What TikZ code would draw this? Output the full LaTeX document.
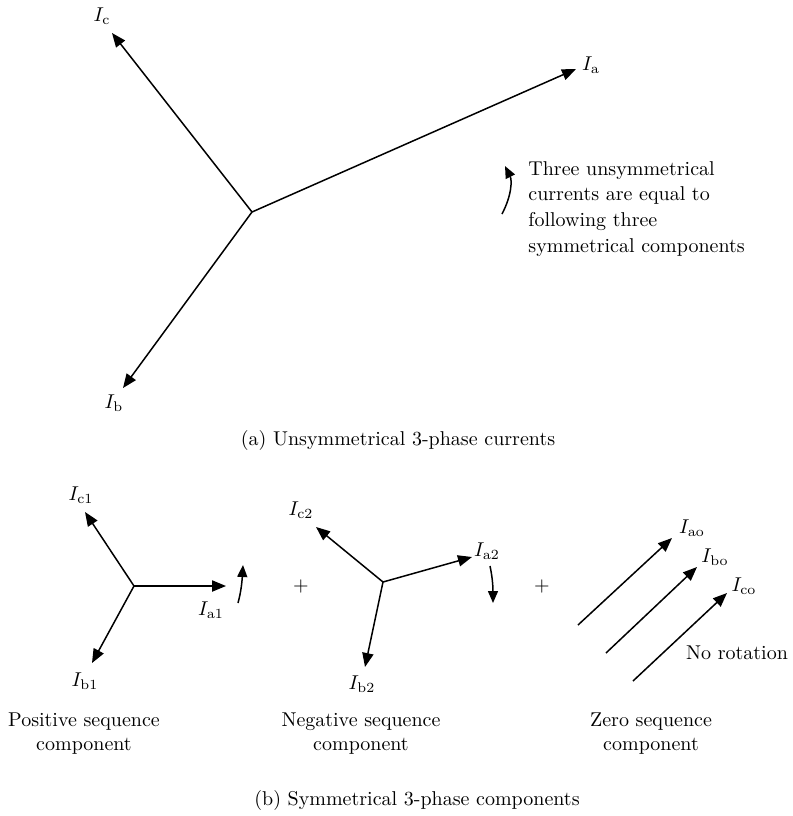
\documentclass[tikz,border=0pt]{standalone}
\usetikzlibrary{arrows.meta}
\begin{document}
\begin{tikzpicture}[x=0.5pt,y=-0.5pt,
  vec/.style={-{Triangle[length=7pt,width=5.6pt]}, line width=0.75pt},
  rot/.style={-{Triangle[length=6pt,width=5pt]}, line width=0.75pt},
  lbl/.style={font=\fontsize{10}{12}\selectfont, inner sep=0pt},
  txt/.style={font=\fontsize{10}{12.85}\selectfont, align=left, inner sep=0pt},
  captxt/.style={font=\fontsize{10}{12}\selectfont, align=center, inner sep=0pt}]
\useasboundingbox (0,0) rectangle (793,816);
% ---------- (a) ----------
\coordinate (O) at (252,212);
\coordinate (Ia) at (576,69);
\coordinate (Ic) at (112,33);
\coordinate (Ib) at (123,388);
\draw[vec] (O) -- (Ia);
\draw[vec] (O) -- (Ic);
\draw[vec] (O) -- (Ib);
\node[lbl] (lIa) at (591,65) {$I_{\mathrm{a}}$};
\node[lbl] (lIc) at (102,16) {$I_{\mathrm{c}}$};
\node[lbl] (lIb) at (114,403) {$I_{\mathrm{b}}$};
\coordinate (r1s) at (502,214);
\coordinate (r1e) at (505,166);
\draw[rot] (r1s) .. controls (512,195) and (512,180) .. (r1e);
\node[txt, anchor=north west] (note) at (528,161) {Three unsymmetrical\\currents are equal to\\following three\\symmetrical components};
\node[captxt] (capa) at (398,440) {(a) Unsymmetrical 3-phase currents};
% ---------- positive ----------
\coordinate (P) at (134,586);
\coordinate (Pa) at (226,586);
\coordinate (Pb) at (92,663);
\coordinate (Pc) at (85,512);
\draw[vec] (P) -- (Pa);
\draw[vec] (P) -- (Pb);
\draw[vec] (P) -- (Pc);
\node[lbl] (lIa1) at (211,610) {$I_{\mathrm{a1}}$};
\node[lbl] (lIb1) at (85,681) {$I_{\mathrm{b1}}$};
\node[lbl] (lIc1) at (81,495) {$I_{\mathrm{c1}}$};
\coordinate (r2s) at (238,603);
\coordinate (r2e) at (243,565);
\draw[rot] (r2s) .. controls (241,592) and (242,582) .. (r2e);
\node[captxt] (tpos) at (84,734) {Positive sequence\\component};
\node[lbl] (plus1) at (301,586) {$+$};
% ---------- negative ----------
\coordinate (N) at (383,582);
\coordinate (Na) at (472,557);
\coordinate (Nb) at (365,667);
\coordinate (Nc) at (316,527);
\draw[vec] (N) -- (Na);
\draw[vec] (N) -- (Nb);
\draw[vec] (N) -- (Nc);
\node[lbl] (lIa2) at (487,551) {$I_{\mathrm{a2}}$};
\node[lbl] (lIb2) at (362,684) {$I_{\mathrm{b2}}$};
\node[lbl] (lIc2) at (301,510) {$I_{\mathrm{c2}}$};
\coordinate (r3s) at (490,566);
\coordinate (r3e) at (493,603);
\draw[rot] (r3s) .. controls (492,575) and (493,585) .. (r3e);
\node[captxt] (tneg) at (361,734) {Negative sequence\\component};
\node[lbl] (plus2) at (542,586) {$+$};
% ---------- zero ----------
\coordinate (Z1s) at (578,625);
\coordinate (Z1e) at (672,538);
\coordinate (Z2s) at (606,653);
\coordinate (Z2e) at (697,567);
\coordinate (Z3s) at (633,681);
\coordinate (Z3e) at (727,593);
\draw[vec] (Z1s) -- (Z1e);
\draw[vec] (Z2s) -- (Z2e);
\draw[vec] (Z3s) -- (Z3e);
\node[lbl] (lIao) at (692,528) {$I_{\mathrm{ao}}$};
\node[lbl] (lIbo) at (715,557) {$I_{\mathrm{bo}}$};
\node[lbl] (lIco) at (744,586) {$I_{\mathrm{co}}$};
\node[lbl] (norot) at (737,653) {No rotation};
\node[captxt] (tzero) at (651,734) {Zero sequence\\component};
\node[captxt] (capb) at (417,800) {(b) Symmetrical 3-phase components};
\end{tikzpicture}
\end{document}
